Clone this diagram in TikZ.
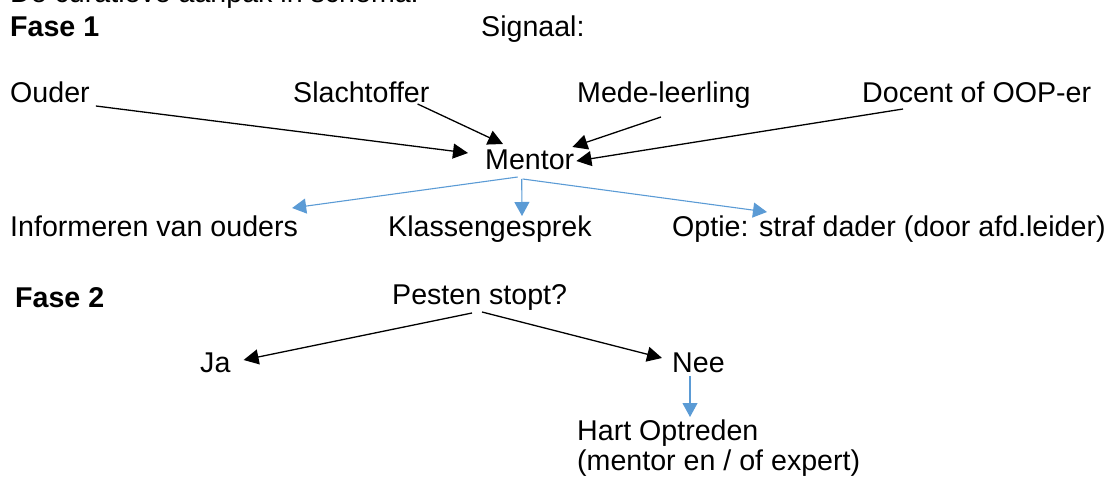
\documentclass[tikz,border=0pt]{standalone}
\usepackage{fontspec}
\setmainfont{Liberation Sans}
\usetikzlibrary{arrows.meta,calc}
\definecolor{lblue}{RGB}{91,155,213}
\begin{document}
\begin{tikzpicture}[x=1pt,y=-1pt,
  txt/.style={anchor=base west,inner sep=0pt,font=\fontsize{28.6}{34}\selectfont},
  boldtxt/.style={anchor=base west,inner sep=0pt,font=\fontsize{28.6}{34}\selectfont\bfseries},
  blk/.style={line width=1.3pt,-{Triangle[length=15pt,width=15pt]}},
  blu/.style={line width=1.1pt,draw=lblue,-{Triangle[length=14pt,width=15pt]}}]
\useasboundingbox (0,0) rectangle (1111,478);
% header (cut off at top, as in the reference)
\node[txt] (title) at (10,3) {De curatieve aanpak in schema:};
\node[boldtxt] (fase1) at (10,37) {Fase 1};
\node[txt] (signaal) at (481,37) {Signaal:};
% sources
\node[txt] (ouder) at (10,103) {Ouder};
\node[txt] (slacht) at (293,103) {Slachtoffer};
\node[txt] (mede) at (577,103) {Mede-leerling};
\node[txt] (docent) at (862,103) {Docent of OOP-er};
\node[txt] (mentor) at (485,170) {Mentor};
% actions
\node[txt] (inform) at (10,237) {Informeren van ouders};
\node[txt] (klass) at (388,237) {Klassengesprek};
\node[txt] (optie) at (672,237) {Optie: straf dader (door afd.leider)};
% phase 2
\node[boldtxt] (fase2) at (15,308) {Fase 2};
\node[txt] (pesten) at (392,305) {Pesten stopt?};
\node[txt] (ja) at (200,372) {Ja};
\node[txt] (nee) at (672,372) {Nee};
\node[txt] (hart) at (577,440) {Hart Optreden};
\node[txt] (hart2) at (577,470) {(mentor en / of expert)};
% black arrows to mentor
\draw[blk] ($(ouder.base east)+(6,3)$) -- ($(mentor.base west)+(-17,-17)$);
\draw[blk] ($(slacht.base east)+(-12,1)$) -- ($(mentor.base west)+(18,-26)$);
\draw[blk] ($(mede.base west)+(84,14)$) -- ($(mentor.base east)+(-2,-23)$);
\draw[blk] ($(docent.base west)+(41,6)$) -- ($(mentor.base east)+(2,-9)$);
% blue arrows from mentor
\draw[blu] ($(mentor.base)+(-12,7)$) -- ($(inform.base east)+(-6,-29)$);
\draw[blu] ($(mentor.base)+(-8,9)$) -- ($(klass.base west)+(134,-21)$);
\draw[blu] ($(mentor.base)+(-7,9)$) -- ($(optie.base west)+(95,-25)$);
% phase 2 arrows
\draw[blk] ($(pesten.base west)+(80,8)$) -- ($(ja.base east)+(13,-12)$);
\draw[blk] ($(pesten.base west)+(90,7)$) -- ($(nee.base west)+(-10,-14)$);
\draw[blu] ($(nee.base west)+(18,4)$) -- ($(hart.base west)+(113,-23)$);
\end{tikzpicture}
\end{document}
